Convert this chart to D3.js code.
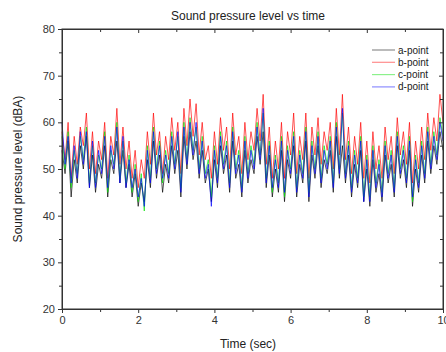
<!DOCTYPE html>
<html>
<head>
<meta charset="utf-8">
<script src="https://cdn.jsdelivr.net/npm/d3@7"></script>
<style>
  body { margin: 0; background: #fff; }
  svg { display: block; font-family: "Liberation Sans", Arial, sans-serif; }
</style>
</head>
<body>
<div id="chart"></div>
<script>
// time step of the samples (sec)
const step = 0.08;

const seriesNames = ["a-point", "b-point", "c-point", "d-point"];
const seriesColors = ["#000000", "#ff0000", "#00e000", "#0000ff"];

const aPoint = [
  54, 49, 56, 44, 52, 47, 55, 50, 57, 46,
  53, 45, 51, 48, 55, 44, 52, 49, 56, 47,
  54, 46, 51, 44, 49, 42, 47, 43, 52, 46,
  56, 48, 53, 45, 51, 47, 55, 49, 54, 44,
  57, 50, 58, 52, 56, 48, 54, 47, 50, 43,
  52, 46, 55, 49, 53, 45, 56, 48, 51, 44,
  54, 47, 52, 49, 57, 51, 58, 46, 53, 44,
  50, 45, 54, 43, 52, 48, 55, 44, 51, 47,
  56, 43, 53, 48, 55, 46, 52, 49, 54, 45,
  57, 48, 55, 47, 53, 44, 51, 46, 54, 43,
  50, 42, 52, 45, 49, 43, 53, 47, 51, 44,
  55, 48, 52, 46, 54, 42, 50, 45, 53, 47,
  56, 49, 55, 51, 58, 54
];
const bPoint = [
  58, 52, 60, 48, 57, 51, 59, 55, 62, 50,
  58, 49, 56, 52, 60, 48, 57, 53, 63, 51,
  59, 50, 56, 48, 54, 46, 52, 48, 58, 51,
  62, 53, 58, 49, 57, 52, 61, 54, 60, 49,
  63, 55, 65, 57, 64, 53, 60, 52, 55, 48,
  58, 51, 61, 54, 59, 50, 62, 53, 57, 49,
  60, 52, 58, 54, 63, 56, 66, 51, 59, 48,
  56, 50, 60, 48, 58, 53, 62, 49, 57, 52,
  62, 48, 59, 53, 61, 51, 58, 54, 60, 50,
  63, 53, 66, 52, 59, 49, 57, 51, 60, 48,
  56, 47, 58, 50, 55, 48, 59, 52, 57, 49,
  61, 53, 58, 51, 60, 47, 56, 50, 59, 52,
  62, 54, 61, 56, 66, 60
];
const cPoint = [
  57, 50, 58, 46, 54, 49, 57, 52, 59, 47,
  55, 47, 53, 50, 58, 45, 54, 51, 60, 48,
  56, 47, 53, 45, 51, 43, 49, 41, 55, 48,
  59, 50, 56, 47, 54, 49, 58, 51, 57, 46,
  60, 52, 61, 54, 59, 50, 57, 49, 52, 44,
  55, 48, 58, 51, 56, 47, 59, 50, 54, 46,
  57, 49, 55, 51, 60, 53, 62, 48, 56, 45,
  53, 47, 57, 44, 55, 50, 58, 46, 54, 49,
  59, 45, 56, 50, 58, 48, 55, 51, 57, 47,
  60, 50, 62, 49, 56, 46, 54, 48, 57, 44,
  53, 44, 55, 47, 52, 45, 56, 49, 54, 46,
  58, 50, 55, 48, 57, 43, 53, 47, 56, 49,
  59, 51, 58, 53, 61, 57
];
const dPoint = [
  60, 51, 57, 47, 55, 48, 58, 51, 58, 46,
  56, 46, 54, 49, 57, 46, 55, 50, 59, 47,
  57, 46, 52, 46, 50, 44, 48, 42, 54, 47,
  58, 49, 55, 48, 53, 48, 57, 50, 58, 45,
  59, 51, 60, 53, 60, 49, 56, 48, 51, 42,
  54, 47, 57, 50, 55, 46, 58, 49, 53, 45,
  56, 48, 54, 50, 59, 52, 63, 47, 55, 46,
  52, 46, 56, 45, 54, 49, 57, 45, 53, 48,
  58, 44, 55, 49, 57, 47, 54, 50, 56, 46,
  59, 49, 63, 48, 55, 45, 53, 47, 56, 43,
  52, 43, 54, 46, 51, 44, 55, 48, 53, 45,
  57, 49, 54, 47, 56, 44, 52, 46, 55, 48,
  58, 50, 57, 52, 60, 56
];

const xTicks = [0, 2, 4, 6, 8, 10];
const yTicks = [20, 30, 40, 50, 60, 70, 80];

const width = 446, height = 352;
const margin = { top: 29, right: 3, bottom: 43, left: 62 };

const svg = d3.select('#chart').append('svg')
  .attr('width', width)
  .attr('height', height);

const x = d3.scaleLinear().domain([0, 10]).range([margin.left, width - margin.right]);
const y = d3.scaleLinear().domain([20, 80]).range([height - margin.bottom, margin.top]);

const allSeries = [aPoint, bPoint, cPoint, dPoint];

// lines
const line = d3.line()
  .x((d, i) => x(i * step))
  .y(d => y(d));

svg.append('g')
  .selectAll('path')
  .data(allSeries)
  .enter()
  .append('path')
  .attr('d', d => line(d))
  .attr('fill', 'none')
  .attr('stroke', (d, i) => seriesColors[i])
  .attr('stroke-width', 0.8)
  .attr('stroke-opacity', 0.85);

// frame
svg.append('rect')
  .attr('x', x(0))
  .attr('y', y(80))
  .attr('width', x(10) - x(0))
  .attr('height', y(20) - y(80))
  .attr('fill', 'none')
  .attr('stroke', '#333')
  .attr('stroke-width', 1);

// axes
const xMinor = d3.range(1, 10, 2);
const yMinor = d3.range(25, 80, 10);

const axBottom = svg.append('g')
  .attr('transform', `translate(0,${y(20)})`)
  .call(d3.axisBottom(x).tickValues(xTicks).tickSize(4).tickPadding(3).tickFormat(d3.format('d')));
axBottom.append('g').call(d3.axisBottom(x).tickValues(xMinor).tickSize(3).tickFormat(''));

const axLeft = svg.append('g')
  .attr('transform', `translate(${x(0)},0)`)
  .call(d3.axisLeft(y).tickValues(yTicks).tickSize(4).tickPadding(3).tickFormat(d3.format('d')));
axLeft.append('g').call(d3.axisLeft(y).tickValues(yMinor).tickSize(3).tickFormat(''));

const axTop = svg.append('g')
  .attr('transform', `translate(0,${y(80)})`)
  .call(d3.axisBottom(x).tickValues(xTicks).tickSize(4).tickFormat(''));
axTop.append('g').call(d3.axisBottom(x).tickValues(xMinor).tickSize(3).tickFormat(''));

const axRight = svg.append('g')
  .attr('transform', `translate(${x(10)},0)`)
  .call(d3.axisLeft(y).tickValues(yTicks).tickSize(4).tickFormat(''));
axRight.append('g').call(d3.axisLeft(y).tickValues(yMinor).tickSize(3).tickFormat(''));

svg.selectAll('.domain').attr('stroke', '#333');
svg.selectAll('.tick line').attr('stroke', '#333');
svg.selectAll('.tick text').attr('fill', '#333').style('font-size', '11px');

// titles
svg.append('text')
  .attr('x', 248).attr('y', 20)
  .attr('text-anchor', 'middle')
  .attr('fill', '#222')
  .style('font-size', '12px')
  .text('Sound pressure level vs time');

svg.append('text')
  .attr('x', 248).attr('y', 348)
  .attr('text-anchor', 'middle')
  .attr('fill', '#222')
  .style('font-size', '12px')
  .text('Time (sec)');

svg.append('text')
  .attr('transform', `translate(22,${y(50)}) rotate(-90)`)
  .attr('text-anchor', 'middle')
  .attr('fill', '#222')
  .style('font-size', '12px')
  .text('Sound pressure level (dBA)');

// legend
const legend = svg.append('g')
  .selectAll('g')
  .data(seriesNames)
  .enter()
  .append('g')
  .attr('transform', (d, i) => `translate(372,${50 + i * 12.3})`);

legend.append('line')
  .attr('x1', 0).attr('x2', 23)
  .attr('stroke', (d, i) => seriesColors[i])
  .attr('stroke-opacity', 0.45)
  .attr('stroke-width', 1.2);

legend.append('text')
  .attr('x', 26).attr('y', 3.5)
  .attr('fill', '#222')
  .style('font-size', '10px')
  .text(d => d);
</script>
</body>
</html>
